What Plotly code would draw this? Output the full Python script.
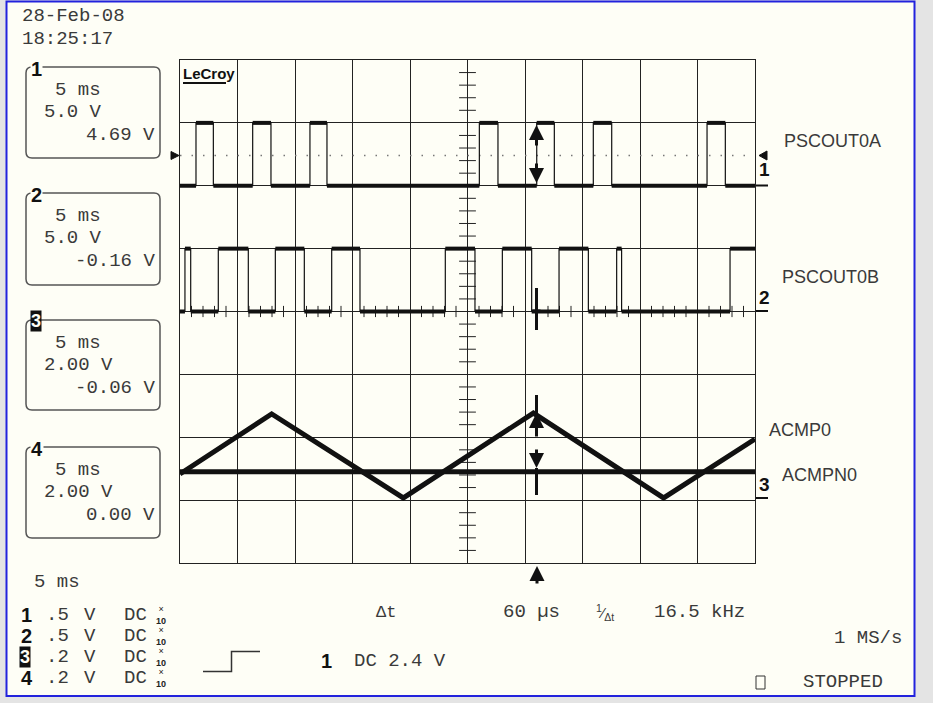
import numpy as np
import plotly.graph_objects as go

# ---------------- data ----------------
# time in ms, 5 ms/div, 10 divisions
CH1_T = [0, 1.39, 2.90, 6.32, 7.91, 11.30, 12.78, 26.03, 27.65, 31.02, 32.55, 35.94, 37.54, 45.83, 47.42, 50]
CH1_V = [0, 5, 0, 5, 0, 5, 0, 5, 0, 5, 0, 5, 0, 5, 0, 0]
CH2_T = [0, 0.43, 0.93, 3.33, 5.94, 8.29, 10.81, 13.19, 15.65, 23.07, 25.65, 28.03, 30.58,
         32.96, 35.51, 37.97, 38.40, 47.83, 50]
CH2_V = [0, 5, 0, 5, 0, 5, 0, 5, 0, 5, 0, 5, 0, 5, 0, 5, 0, 5, 5]
CH3_T = [0, 7.97, 19.42, 30.73, 42.05, 50]
CH3_V = [0.83, 2.74, 0.07, 2.77, 0.07, 1.94]
CH4_T = [0, 50]
CH4_V = [0.90, 0.90]
VDIV = [5.0, 5.0, 2.0, 2.0]          # volts per division
GND_DIV = [6, 4, 1, 1]               # ground position (divisions from bottom)
TRIG_V = 2.4
CURSOR_T = 31.0
LABELS = ["PSCOUT0A", "PSCOUT0B", "ACMP0", "ACMPN0"]

# ---------------- geometry helpers ----------------
W, H = 933, 703
PL, PR, PT, PB = 180, 755, 60, 563


def px(x):
    return (x - PL) / (PR - PL)


def py(y):
    return (PB - y) / (PB - PT)


def to_div(v, ch):
    return [GND_DIV[ch] + a / VDIV[ch] for a in v]


def div_of_px(y):
    return (PB - y) / ((PB - PT) / 8.0)


MONO = "Liberation Mono, DejaVu Sans Mono, monospace"
SANS = "Liberation Sans, Arial, sans-serif"
NARROW = "Liberation Sans Narrow, Liberation Sans, Arial, sans-serif"
TXT = "#3a3a3a"
CREAM = "#fefef6"

fig = go.Figure()


def step_traces(T, V, ch):
    d = to_div(V, ch)
    # thin full waveform (edges)
    fig.add_trace(go.Scatter(x=T, y=d, mode="lines", line=dict(color="#111", width=1.2, shape="hv"),
                             hoverinfo="skip"))
    # thick level segments
    xs, ys = [], []
    for i in range(len(T) - 1):
        xs += [T[i], T[i + 1], None]
        ys += [d[i], d[i], None]
    fig.add_trace(go.Scatter(x=xs, y=ys, mode="lines", line=dict(color="#111", width=4),
                             hoverinfo="skip"))


# trigger level dotted line (channel 1)
trig_div = GND_DIV[0] + TRIG_V / VDIV[0]
fig.add_trace(go.Scatter(x=[0, 50], y=[trig_div, trig_div], mode="lines",
                         line=dict(color="#777", width=1.5, dash="1.5px,10px"), hoverinfo="skip"))

# centre graticule ticks
vt = [v for v in np.arange(0.2, 8.0, 0.2) if abs(v - round(v)) > 0.05]
fig.add_trace(go.Scatter(x=[25] * len(vt), y=vt, mode="markers",
                         marker=dict(symbol="line-ew", size=12, line=dict(color="#222", width=1)),
                         hoverinfo="skip"))
ht = [v for v in np.arange(1, 50, 1.0) if v % 5 != 0]
fig.add_trace(go.Scatter(x=ht, y=[4] * len(ht), mode="markers",
                         marker=dict(symbol="line-ns", size=8, line=dict(color="#222", width=1)),
                         hoverinfo="skip"))

step_traces(CH1_T, CH1_V, 0)
step_traces(CH2_T, CH2_V, 1)
fig.add_trace(go.Scatter(x=CH4_T, y=to_div(CH4_V, 3), mode="lines",
                         line=dict(color="#111", width=5), hoverinfo="skip"))
fig.add_trace(go.Scatter(x=CH3_T, y=to_div(CH3_V, 2), mode="lines",
                         line=dict(color="#111", width=5), hoverinfo="skip"))

# cursor line pieces
for (a, b) in [(288, 330), (395, 413), (468, 495)]:
    fig.add_trace(go.Scatter(x=[CURSOR_T, CURSOR_T], y=[div_of_px(a), div_of_px(b)], mode="lines",
                             line=dict(color="#111", width=3), hoverinfo="skip"))
fig.add_trace(go.Scatter(x=[CURSOR_T - 0.35, CURSOR_T + 0.35], y=[div_of_px(311), div_of_px(311)],
                         mode="lines", line=dict(color="#111", width=3), hoverinfo="skip"))

annotations = []
shapes = []


def txt(x, y, s, anchor="left", size=19, family=MONO, color=TXT, **kw):
    d = dict(x=px(x), y=py(y), xref="paper", yref="paper", text=s, showarrow=False,
             xanchor=anchor, yanchor="middle", font=dict(family=family, size=size, color=color))
    d.update(kw)
    annotations.append(d)


def cursor_arrow(head, tail):
    annotations.append(dict(x=CURSOR_T, y=div_of_px(head), ax=CURSOR_T, ay=div_of_px(tail),
                            xref="x", yref="y", axref="x", ayref="y", text="", showarrow=True,
                            arrowhead=2, arrowsize=1, arrowwidth=3, arrowcolor="#111"))


cursor_arrow(125, 147)
cursor_arrow(183, 162)
cursor_arrow(413, 438)
cursor_arrow(468, 448)
# bottom arrow below the grid
annotations.append(dict(x=px(537), y=py(566), xref="paper", yref="paper", ax=0, ay=19, text="",
                        showarrow=True, arrowhead=2, arrowsize=1, arrowwidth=3, arrowcolor="#111"))


def line(x0, y0, x1, y1, color="#111", width=1.5):
    shapes.append(dict(type="line", xref="paper", yref="paper", x0=px(x0), y0=py(y0),
                       x1=px(x1), y1=py(y1), line=dict(color=color, width=width)))


def path(pts, close=False, fill=None, color="#111", width=1.5):
    s = "M " + " L ".join(f"{px(a):.5f},{py(b):.5f}" for a, b in pts)
    if close:
        s += " Z"
    d = dict(type="path", xref="paper", yref="paper", path=s, line=dict(color=color, width=width))
    if fill:
        d["fillcolor"] = fill
    shapes.append(d)


def rrect(x0, y0, x1, y1, r):
    P = lambda a, b: f"{px(a):.5f},{py(b):.5f}"
    s = (f"M {P(x0 + r, y0)} L {P(x1 - r, y0)} Q {P(x1, y0)} {P(x1, y0 + r)} "
         f"L {P(x1, y1 - r)} Q {P(x1, y1)} {P(x1 - r, y1)} L {P(x0 + r, y1)} "
         f"Q {P(x0, y1)} {P(x0, y1 - r)} L {P(x0, y0 + r)} Q {P(x0, y0)} {P(x0 + r, y0)} Z")
    shapes.append(dict(type="path", xref="paper", yref="paper", path=s,
                       line=dict(color="#555", width=1.5)))


# outer frame / background
shapes.append(dict(type="rect", xref="paper", yref="paper", x0=px(6.5), y0=py(696), x1=px(914.5),
                   y1=py(1.5), line=dict(color="#2222dd", width=2), fillcolor=CREAM, layer="below"))

# date/time
txt(20, 16, "28-Feb-08")
txt(20, 39, "18:25:17")

# channel boxes
boxes = [(67, 158, "1", "5.0 V", "4.69 V"), (193, 285, "2", "5.0 V", "-0.16 V"),
         (320, 410, "3", "2.00 V", "-0.06 V"), (447, 538, "4", "2.00 V", "0.00 V")]
for (y0, y1, num, vd, off) in boxes:
    rrect(26, y0, 160, y1, 6)
    txt(53, y0 + 23, "5 ms")
    txt(42, y0 + 45, vd)
    txt(157, y0 + 68, off, anchor="right")
    if num == "3":
        txt(30, y0 + 1, "<b>3</b>", size=18, family=NARROW, color=CREAM, bgcolor="#111",
            borderpad=0)
    else:
        txt(30, y0 + 2, f"<b>{num}</b>", size=20, family=NARROW, color="#111", bgcolor=CREAM,
            borderpad=0)

# logo
txt(181, 73, "<b>LeCroy</b>", size=15, family=NARROW, color="#111")
line(183, 83, 226, 83, width=2)

# right labels
txt(782, 141, LABELS[0], size=18, family=SANS, color=TXT)
txt(780, 277, LABELS[1], size=18, family=SANS, color=TXT)
txt(767, 430, LABELS[2], size=18, family=SANS, color=TXT)
txt(780, 475, LABELS[3], size=18, family=SANS, color=TXT)

# ground markers at the right edge
for (dy, num, yl) in [(169, "1", 185.5), (297, "2", 311), (484, "3", 498)]:
    txt(757, dy, f"<b>{num}</b>", size=19, family=NARROW, color="#111")
    line(756, yl, 768, yl, width=2)

# trigger level markers
path([(171, 151.5), (179, 155.5), (171, 159.5)], close=True, fill="#111", width=1)
path([(767, 151), (759, 155.5), (767, 160)], close=True, fill="#111", width=1)

# bottom information
txt(32, 582, "5 ms")
rows = [(615, "1", ".5"), (636, "2", ".5"), (657, "3", ".2"), (678, "4", ".2")]
for (y, num, vd) in rows:
    if num == "3":
        txt(19, y, "<b>3</b>", size=18, family=NARROW, color=CREAM, bgcolor="#111", borderpad=0)
    else:
        txt(19, y, f"<b>{num}</b>", size=20, family=NARROW, color="#111")
    txt(44, y, vd)
    txt(82, y, "V")
    txt(122, y, "DC")
    txt(154, y, "×<br><b>10</b>", size=9, family=NARROW, color="#222")

path([(203, 671.5), (231.5, 671.5), (231.5, 651.5), (260, 651.5)], color="#333", width=1.5)
txt(319, 661, "<b>1</b>", size=20, family=NARROW, color="#111")
txt(352, 661, "DC 2.4 V")
txt(374, 612, "Δt", size=17)
txt(501, 612, "60 µs")
txt(594, 612, "<sup>1</sup>⁄<sub>Δt</sub>", size=15, family=SANS)
txt(652, 612, "16.5 kHz")
txt(904, 638, "1 MS/s", anchor="right")
shapes.append(dict(type="rect", xref="paper", yref="paper", x0=px(756), y0=py(689), x1=px(765),
                   y1=py(676), line=dict(color="#333", width=1)))
txt(801, 682, "STOPPED")

fig.update_layout(
    width=W, height=H, autosize=False,
    margin=dict(l=PL, r=W - PR, t=PT, b=H - PB, pad=0),
    paper_bgcolor="#e4e4e4", plot_bgcolor=CREAM,
    showlegend=False, hovermode=False,
    annotations=annotations, shapes=shapes,
    xaxis=dict(range=[0, 50], dtick=5, tick0=0, showgrid=True, gridcolor="#222", gridwidth=1,
               showticklabels=False, ticks="", zeroline=False, showline=True, mirror=True,
               linecolor="#222", linewidth=1, fixedrange=True),
    yaxis=dict(range=[0, 8], dtick=1, tick0=0, showgrid=True, gridcolor="#222", gridwidth=1,
               showticklabels=False, ticks="", zeroline=False, showline=True, mirror=True,
               linecolor="#222", linewidth=1, fixedrange=True),
)

fig.write_html("out.html", config={"staticPlot": True},
               post_script="document.body.style.margin='0px';document.body.style.overflow='hidden';")
